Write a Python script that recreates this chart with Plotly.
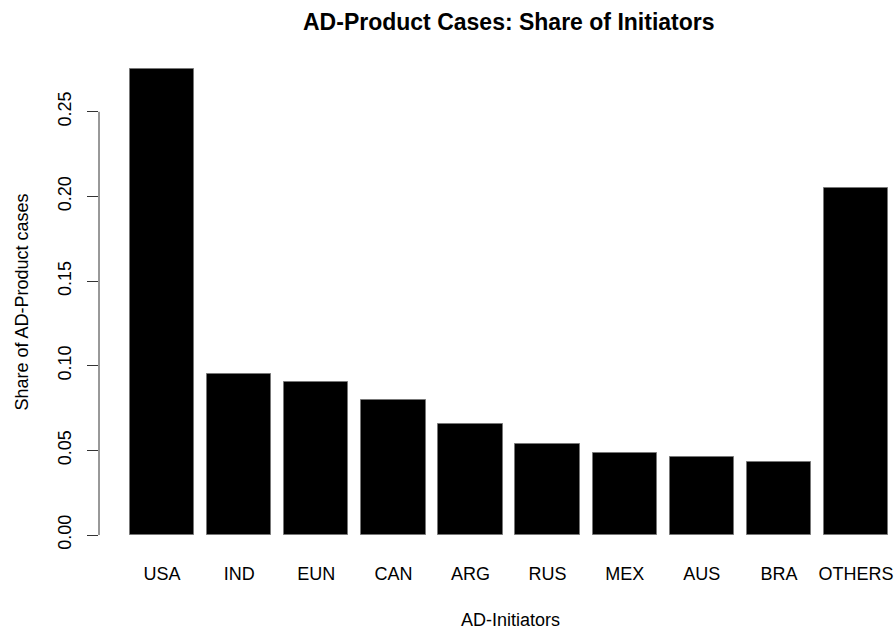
import plotly.graph_objects as go

initiators = ['USA', 'IND', 'EUN', 'CAN', 'ARG', 'RUS', 'MEX', 'AUS', 'BRA', 'OTHERS']
shares = [0.2754, 0.0952, 0.0904, 0.0798, 0.0656, 0.0537, 0.0486, 0.0463, 0.0429, 0.2051]
y_ticks = [0.00, 0.05, 0.10, 0.15, 0.20, 0.25]
y_tick_labels = ['0.00', '0.05', '0.10', '0.15', '0.20', '0.25']

FONT = 'Liberation Sans, Arial, sans-serif'
W, H = 895, 631
L, R, T = 99, 0, 50
B = H - 554

pos = list(range(len(initiators)))

fig = go.Figure(go.Bar(
    x=pos, y=shares, width=1 / 1.2,
    marker=dict(color='black', line=dict(color='#777777', width=1)),
))

fig.update_layout(
    width=W, height=H,
    margin=dict(l=L, r=R, t=T, b=B),
    paper_bgcolor='white', plot_bgcolor='white',
    font=dict(family=FONT, size=18, color='black'),
    showlegend=False,
    bargap=0,
)

fig.update_xaxes(
    range=[-0.818, 9.506], tickmode='array', tickvals=pos, ticktext=initiators,
    showgrid=False, zeroline=False, showline=False, ticks='',
    ticklabelstandoff=7, tickfont=dict(size=18),
)
fig.update_yaxes(
    range=[-0.0112, 0.2865], tickmode='array', tickvals=y_ticks, ticktext=y_tick_labels,
    showgrid=False, zeroline=False, showline=False,
    ticks='outside', ticklen=11, tickcolor='#333333', tickwidth=1,
    tickangle=-90, ticklabelstandoff=9, tickfont=dict(size=18),
)

# R-style axis line that only spans the tick range
fig.add_shape(type='line', xref='paper', yref='y', x0=0, x1=0, y0=0, y1=0.25,
              line=dict(color='#333333', width=1))

pw = W - L - R
ph = H - T - B


def px_x(p):
    return (p - L) / pw


def px_y(p):
    return (H - p - B) / ph


fig.add_annotation(text='<b>AD-Product Cases: Share of Initiators</b>', xref='paper', yref='paper',
                   x=px_x(509), y=px_y(22), xanchor='center', yanchor='middle',
                   showarrow=False, font=dict(size=23))
fig.add_annotation(text='AD-Initiators', xref='paper', yref='paper',
                   x=px_x(510), y=px_y(620), xanchor='center', yanchor='middle',
                   showarrow=False, font=dict(size=18))
fig.add_annotation(text='Share of AD-Product cases', xref='paper', yref='paper',
                   x=px_x(21.5), y=px_y(302), xanchor='center', yanchor='middle',
                   textangle=-90, showarrow=False, font=dict(size=18))

# drop the default page margin so the figure fills the window exactly
fig.write_html('out.html', config={'displayModeBar': False},
               post_script="document.body.style.margin='0';document.body.style.overflow='hidden';")
